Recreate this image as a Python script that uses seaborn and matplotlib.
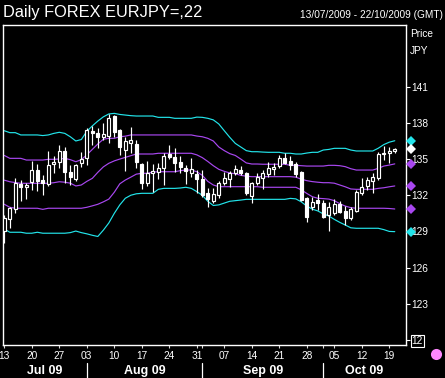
import matplotlib
matplotlib.use("Agg")
import matplotlib.pyplot as plt
import matplotlib.transforms as mtransforms
import seaborn as sns
import pandas as pd
import numpy as np

# ---------------- data ----------------
start_date = "2009-07-13"
end_date = "2009-10-20"

opens = [129.05, 130.0, 130.83, 132.93, 132.66, 133.12, 134.09, 133.26, 132.93, 134.57,
         134.78, 135.67, 133.95, 133.32, 134.7, 135.06, 137.35, 137.18, 136.85, 136.91,
         138.57, 137.41, 135.75, 136.36, 136.25, 134.59, 132.99, 133.82, 133.95, 134.23,
         135.42, 135.14, 134.78, 134.23, 133.87, 133.76, 133.32, 132.21, 131.55, 132.02,
         132.99, 133.37, 133.82, 134.09, 133.87, 131.93, 132.99, 133.4, 133.76, 134.18,
         134.42, 135.06, 134.84, 134.57, 133.95, 131.8, 131.0, 131.6, 131.38, 130.36,
         130.5, 131.27, 130.72, 130.09, 130.72, 132.16, 132.77, 133.18, 133.4, 135.42,
         135.53, 135.67]
highs = [130.4, 131.05, 133.4, 133.26, 133.04, 134.84, 134.59, 133.68, 135.67, 135.25,
         136.17, 136.03, 134.5, 134.57, 135.61, 137.55, 137.74, 137.55, 137.96, 138.74,
         138.65, 137.47, 136.8, 137.7, 136.58, 134.65, 134.84, 134.59, 134.65, 135.48,
         136.17, 135.89, 135.25, 134.5, 135.06, 134.09, 134.09, 132.57, 132.57, 133.21,
         133.95, 134.04, 134.5, 134.42, 133.95, 133.12, 133.82, 134.09, 134.78, 134.65,
         135.34, 135.48, 135.25, 134.78, 134.0, 131.88, 131.88, 132.08, 131.6, 131.46,
         131.71, 131.55, 131.11, 131.0, 132.43, 133.4, 133.54, 133.82, 135.61, 136.08,
         136.03, 135.94]
lows = [128.0, 129.3, 130.5, 131.55, 131.69, 132.43, 132.38, 132.02, 132.77, 133.82,
        134.23, 132.99, 132.85, 133.2, 134.37, 134.5, 136.17, 135.89, 136.58, 136.31,
        136.85, 135.34, 134.03, 135.48, 134.23, 132.49, 132.77, 132.29, 133.32, 132.85,
        134.98, 133.95, 133.82, 132.93, 133.54, 132.16, 131.88, 131.0, 131.38, 131.74,
        132.85, 132.66, 133.65, 133.68, 132.02, 131.33, 132.85, 132.5, 133.49, 133.68,
        134.23, 134.59, 134.09, 133.54, 131.55, 129.81, 130.78, 130.78, 130.09, 129.06,
        130.36, 130.5, 129.53, 129.95, 130.64, 132.02, 132.43, 132.21, 133.26, 134.92,
        134.7, 135.53]
closes = [130.08, 130.92, 133.0, 132.71, 132.85, 134.09, 133.18, 133.04, 134.5, 134.78,
          135.67, 133.95, 133.49, 134.5, 134.98, 137.41, 137.13, 136.8, 137.08, 138.38,
          137.27, 136.03, 136.52, 136.58, 134.78, 132.99, 133.87, 134.04, 134.23, 135.25,
          135.2, 134.7, 134.37, 134.04, 134.15, 133.32, 132.02, 131.66, 132.1, 132.99,
          133.4, 133.87, 134.18, 133.87, 132.21, 132.99, 133.54, 133.87, 134.23, 134.37,
          135.06, 134.7, 134.51, 133.76, 131.6, 130.22, 131.46, 131.38, 130.22, 131.0,
          131.27, 130.64, 130.09, 130.83, 132.29, 132.71, 133.26, 133.49, 135.42, 135.53,
          135.67, 135.83]

band_upper2 = [137.35, 137.19, 137.19, 137.0, 137.0, 137.0, 137.0, 136.95, 137.0, 137.13,
               137.22, 137.13, 136.85, 136.5, 136.62, 137.3, 137.75, 138.15, 138.5, 138.74,
               138.79, 138.7, 138.65, 138.6, 138.57, 138.57, 138.57, 138.57, 138.46, 138.46,
               138.46, 138.38, 138.38, 138.38, 138.38, 138.48, 138.46, 138.38, 138.25, 137.91,
               137.35, 136.8, 136.3, 136.0, 135.7, 135.61, 135.61, 135.58, 135.56, 135.56,
               135.56, 135.48, 135.48, 135.42, 135.42, 135.5, 135.56, 135.56, 135.75, 135.8,
               135.89, 135.89, 135.89, 135.75, 135.67, 135.67, 135.67, 135.67, 135.9, 136.2,
               136.4, 136.52]
band_upper1 = [135.3, 135.06, 135.06, 135.06, 134.92, 134.92, 134.92, 134.92, 134.98, 134.98,
               135.0, 135.06, 134.95, 134.78, 134.95, 135.35, 135.8, 136.25, 136.64, 136.72,
               136.72, 136.85, 136.9, 137.0, 137.0, 137.0, 137.0, 137.0, 137.0, 137.0,
               137.0, 137.0, 137.0, 137.0, 137.0, 136.91, 136.85, 136.72, 136.5, 136.0,
               135.7, 135.45, 135.3, 135.0, 134.68, 134.59, 134.59, 134.57, 134.57, 134.57,
               134.57, 134.57, 134.48, 134.48, 134.45, 134.42, 134.42, 134.42, 134.42, 134.48,
               134.48, 134.45, 134.37, 134.2, 134.09, 134.09, 134.09, 134.09, 134.23, 134.42,
               134.5, 134.6]
band_middle = [133.25, 133.12, 133.05, 132.99, 132.99, 132.99, 132.99, 132.99, 132.99, 133.04,
               133.12, 133.08, 133.0, 132.77, 132.85, 133.15, 133.4, 133.9, 134.35, 134.65,
               134.85, 135.0, 135.14, 135.28, 135.42, 135.42, 135.42, 135.42, 135.48, 135.48,
               135.48, 135.48, 135.48, 135.48, 135.48, 135.35, 135.12, 134.8, 134.45, 134.15,
               133.98, 133.85, 133.78, 133.65, 133.58, 133.54, 133.54, 133.54, 133.54, 133.54,
               133.54, 133.54, 133.54, 133.5, 133.33, 133.21, 133.13, 133.08, 133.04, 133.04,
               133.0, 132.85, 132.7, 132.52, 132.49, 132.49, 132.49, 132.49, 132.57, 132.62,
               132.7, 132.77]
band_lower1 = [131.25, 131.0, 130.92, 130.92, 130.92, 130.92, 130.92, 130.83, 130.92, 130.92,
               130.92, 130.92, 130.92, 130.92, 130.92, 131.0, 131.12, 131.25, 131.45, 131.68,
               132.25, 132.95, 133.26, 133.5, 133.75, 133.82, 133.82, 133.92, 133.95, 133.95,
               133.95, 133.95, 134.04, 134.09, 134.09, 133.95, 133.65, 133.15, 132.85, 132.71,
               132.71, 132.71, 132.71, 132.71, 132.71, 132.71, 132.71, 132.66, 132.66, 132.66,
               132.66, 132.66, 132.66, 132.66, 132.45, 132.15, 131.88, 131.75, 131.72, 131.68,
               131.55, 131.3, 131.1, 130.97, 130.92, 130.92, 130.92, 130.92, 130.92, 130.92,
               130.9, 130.86]
band_lower2 = [129.2, 128.93, 128.93, 128.93, 128.85, 128.85, 128.93, 128.85, 128.85, 128.85,
               128.85, 128.85, 128.9, 129.03, 128.9, 128.8, 128.68, 128.58, 129.1, 129.7,
               130.5, 131.2, 131.75, 132.0, 132.12, 132.16, 132.16, 132.16, 132.49, 132.57,
               132.57, 132.57, 132.6, 132.66, 132.57, 132.3, 132.0, 131.5, 131.15, 131.2,
               131.35, 131.5, 131.55, 131.6, 131.66, 131.66, 131.66, 131.66, 131.66, 131.66,
               131.66, 131.66, 131.74, 131.7, 131.45, 131.1, 130.85, 130.7, 130.45, 130.28,
               130.0, 129.75, 129.53, 129.3, 129.26, 129.26, 129.26, 129.26, 129.26, 129.15,
               129.0, 128.98]

price_ticks = [120, 123, 126, 129, 132, 135, 138, 141]
price_labels = ["12", "123", "126", "129", "132", "135", "138", "141"]
month_names = ["Jul 09", "Aug 09", "Sep 09", "Oct 09"]

title = "Daily FOREX EURJPY=,22"
range_text = "13/07/2009 - 22/10/2009 (GMT)"

CYAN = "#22e4ea"
PURPLE = "#a847f0"

# ---------------- setup ----------------
sns.set_theme(style="dark", rc={
    "axes.facecolor": "black", "figure.facecolor": "black",
    "axes.edgecolor": "white", "text.color": "white",
    "xtick.color": "#d0d0d0", "ytick.color": "white",
    "axes.grid": False,
})
plt.rcParams["font.family"] = ["Liberation Sans", "DejaVu Sans"]

W, H = 445, 378
fig = plt.figure(figsize=(W / 100, H / 100), dpi=100)
ax_l, ax_r, ax_t, ax_b = 3, 405.5, 24.5, 345
ax = fig.add_axes([ax_l / W, 1 - ax_b / H, (ax_r - ax_l) / W, (ax_b - ax_t) / H])

dates = pd.bdate_range(start_date, end_date)
n = len(dates)
idx = np.arange(n)

# bands (seaborn)
band_names = ["upper2", "upper1", "middle", "lower1", "lower2"]
band_vals = [band_upper2, band_upper1, band_middle, band_lower1, band_lower2]
band_df = pd.concat([pd.DataFrame({"idx": idx, "value": v, "band": nm})
                     for nm, v in zip(band_names, band_vals)], ignore_index=True)
palette = {"upper2": CYAN, "upper1": PURPLE, "middle": PURPLE, "lower1": PURPLE, "lower2": CYAN}
sns.lineplot(data=band_df, x="idx", y="value", hue="band", palette=palette,
             estimator=None, legend=False, linewidth=0.85, ax=ax, zorder=2)

# candles
o = np.array(opens); c = np.array(closes)
ax.vlines(idx, lows, highs, color="white", linewidth=0.85, zorder=3)
up = c >= o
bottoms = np.minimum(o, c)
heights = np.maximum(np.abs(c - o), 0.08)
ax.bar(idx[up], heights[up], bottom=bottoms[up], width=0.58, color="black",
       edgecolor="white", linewidth=0.85, zorder=4)
ax.bar(idx[~up], heights[~up], bottom=bottoms[~up], width=0.58, color="white",
       edgecolor="white", linewidth=0.85, zorder=4)

ax.set_xlim(-0.24, 72.95)
ax.set_ylim(119.58, 146.16)
ax.set_xlabel(""); ax.set_ylabel("")

for sp in ax.spines.values():
    sp.set_color("white"); sp.set_linewidth(1.0); sp.set_visible(True)

# y axis on right
ax.yaxis.tick_right()
ax.set_yticks(price_ticks)
ax.set_yticklabels(price_labels)
ax.tick_params(axis="y", which="major", direction="out", length=3, width=0.8,
               colors="white", labelsize=7.3, pad=1.5, left=False, right=True)
ylab = ax.get_yticklabels()[0]
ylab.set_bbox(dict(facecolor="black", edgecolor="white", linewidth=0.8, pad=0.6))

# x ticks: Mondays + first trading day of a month
mondays = [i for i, d in enumerate(dates) if d.weekday() == 0]
month_starts = [i for i in range(1, n) if dates[i].month != dates[i - 1].month]
tick_pos = sorted(set(mondays) | set(month_starts))
tick_lab = [dates[i].strftime("%d") if i in mondays else "" for i in tick_pos]
ax.set_xticks(tick_pos)
ax.set_xticklabels(tick_lab)
ax.tick_params(axis="x", direction="out", length=2.2, width=0.8, colors="#d8d8d8",
               labelsize=7.3, pad=2.2, bottom=True, labelcolor="white")

# month labels and separators
blend = mtransforms.blended_transform_factory(ax.transData, fig.transFigure)
bounds = [ax.get_xlim()[0]] + month_starts + [ax.get_xlim()[1]]
for k, name in enumerate(month_names):
    xm = (bounds[k] + bounds[k + 1]) / 2
    fig.text(xm, 1 - 371 / H, name, transform=blend, ha="center", va="center",
             fontsize=9, fontweight="bold", color="white")
for ms in month_starts:
    fig.lines.append(plt.Line2D([ms, ms], [1 - 363 / H, 1 - 378 / H], transform=blend,
                                color="white", linewidth=0.9))

# markers at right end
mblend = mtransforms.blended_transform_factory(ax.transAxes, ax.transData)
mx = 1 + (411 - ax_r) / (ax_r - ax_l)
for v, col in [(band_upper2[-1], CYAN), (closes[-1], "white"), (band_upper1[-1], PURPLE),
               (band_middle[-1], PURPLE), (band_lower1[-1], PURPLE), (band_lower2[-1], CYAN)]:
    ax.plot([mx], [v], marker="D", ms=5.5, color=col, markeredgewidth=0,
            transform=mblend, clip_on=False, zorder=6)

# texts
fig.text(3 / W, 1 - 12 / H, title, ha="left", va="center", fontsize=11.8, color="white")
fig.text(443 / W, 1 - 15 / H, range_text, ha="right", va="center", fontsize=7.3, color="white")
fig.text(410 / W, 1 - 34 / H, "Price", ha="left", va="center", fontsize=7.3, color="white")
fig.text(410 / W, 1 - 51 / H, "JPY", ha="left", va="center", fontsize=7.3, color="white")

# pink dot
fig.lines.append(plt.Line2D([436 / W], [1 - 354 / H], transform=fig.transFigure,
                            marker="o", ms=8, color="#ff88ff", markeredgewidth=0))

fig.savefig("out.png", dpi=100, facecolor="black")
